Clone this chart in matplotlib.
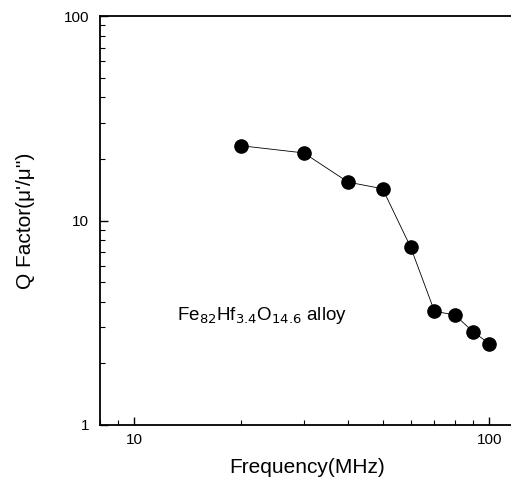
import matplotlib
matplotlib.use("Agg")
from matplotlib import pyplot as plt
from matplotlib.ticker import LogLocator, NullFormatter, FixedLocator, FixedFormatter

# Data
freq = [20, 30, 40, 50, 60, 70, 80, 90, 100]
qfac = [23.2, 21.4, 15.4, 14.3, 7.4, 3.6, 3.45, 2.85, 2.5]

plt.rcParams['font.family'] = ['Liberation Sans', 'DejaVu Sans']

fig = plt.figure(figsize=(5.11, 4.79), dpi=100)
ax = fig.add_axes([100 / 511, 1 - 425 / 479, 411 / 511, 409 / 479])

ax.plot(freq, qfac, color="black", lw=0.6, marker="o", ms=9.5,
        markerfacecolor="black", markeredgecolor="black")

ax.set_xscale("log")
ax.set_yscale("log")
ax.set_xlim(8, 115)
ax.set_ylim(1, 100)

ax.xaxis.set_major_locator(FixedLocator([10, 100]))
ax.xaxis.set_major_formatter(FixedFormatter(["10", "100"]))
ax.xaxis.set_minor_locator(LogLocator(base=10, subs=range(2, 10)))
ax.xaxis.set_minor_formatter(NullFormatter())
ax.yaxis.set_major_locator(FixedLocator([1, 10, 100]))
ax.yaxis.set_major_formatter(FixedFormatter(["1", "10", "100"]))
ax.yaxis.set_minor_locator(LogLocator(base=10, subs=range(2, 10)))
ax.yaxis.set_minor_formatter(NullFormatter())

ax.tick_params(which="both", direction="in", top=False, right=False, labelsize=11)
ax.tick_params(which="major", length=6, width=1)
ax.tick_params(which="minor", length=3.5, width=0.8)
ax.tick_params(axis="y", which="major", pad=8)
ax.tick_params(axis="x", which="major", pad=6)

for s in ["left", "bottom", "top"]:
    ax.spines[s].set_linewidth(1.3)
ax.spines["right"].set_visible(False)

ax.set_xlabel("Frequency(MHz)", fontsize=15, va="center")
ax.xaxis.set_label_coords(0.505, -0.105)
ax.set_ylabel("Q Factor(\u03bc'/\u03bc'')", fontsize=15, va="center")
ax.yaxis.set_label_coords(-0.182, 0.5)

ax.text(13.2, 3.45, r"Fe$_{82}$Hf$_{3.4}$O$_{14.6}$ alloy", fontsize=13.5,
        va="center", ha="left")

fig.savefig("out.png", dpi=100)
